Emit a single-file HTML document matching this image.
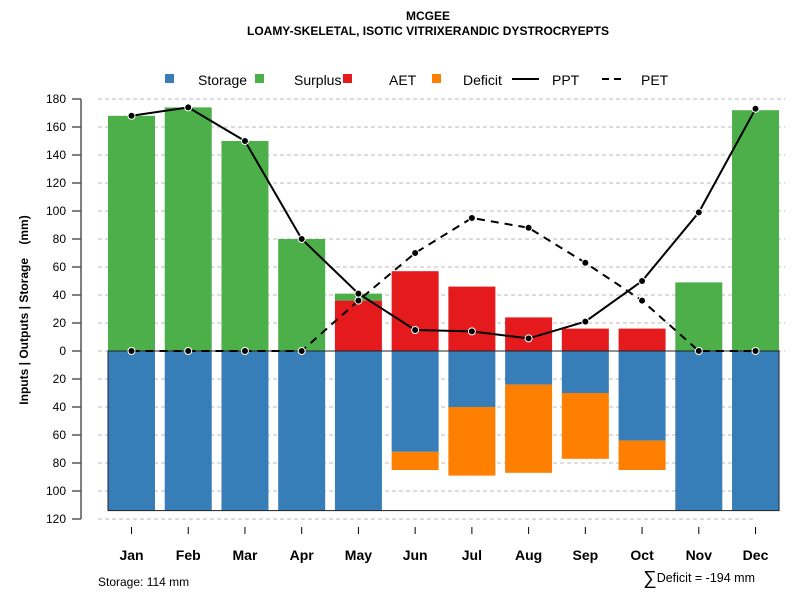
<!DOCTYPE html>
<html><head><meta charset="utf-8"><style>
body{margin:0;background:#fff;font-family:"Liberation Sans",sans-serif}
svg text{font-family:"Liberation Sans",sans-serif}
</style></head><body>
<svg id="chart" width="800" height="600" xmlns="http://www.w3.org/2000/svg">
<text x="428" y="20" text-anchor="middle" font-size="12" font-weight="bold">MCGEE</text>
<text x="428" y="35" text-anchor="middle" font-size="12" font-weight="bold">LOAMY-SKELETAL, ISOTIC VITRIXERANDIC DYSTROCRYEPTS</text>
<g font-size="14">
<rect x="165" y="74" width="9" height="9" fill="#377eb8"/>
<text x="198" y="85">Storage</text>
<rect x="255" y="74" width="9" height="9" fill="#4daf4a"/>
<text x="294" y="85">Surplus</text>
<rect x="343" y="74" width="9" height="9" fill="#e41a1c"/>
<text x="389" y="85">AET</text>
<rect x="432" y="74" width="9" height="9" fill="#ff7f00"/>
<text x="463" y="85">Deficit</text>
<line x1="512" y1="79" x2="539" y2="79" stroke="#000" stroke-width="2"/>
<text x="552" y="85">PPT</text>
<line x1="602" y1="79" x2="625" y2="79" stroke="#000" stroke-width="2" stroke-dasharray="7,5"/>
<text x="641" y="85">PET</text>
</g>
<g id="grid"></g><g id="bars"></g><g id="lines"></g><g id="axes"></g>
<text transform="translate(28,310) rotate(-90)" text-anchor="middle" font-size="12" font-weight="bold" xml:space="preserve">Inputs | Outputs | Storage    (mm)</text>
<text x="98" y="586" font-size="12">Storage: 114 mm</text>
<text x="755" y="582" text-anchor="end" font-size="12.5"><tspan font-size="19" dy="2">∑</tspan><tspan dy="-2">Deficit = -194 mm</tspan></text>
</svg>
<script>
const months=["Jan","Feb","Mar","Apr","May","Jun","Jul","Aug","Sep","Oct","Nov","Dec"];
const ppt=[168,174,150,80,41,15,14,9,21,50,99,173];
const pet=[0,0,0,0,36,70,95,88,63,36,0,0];
const aet=[0,0,0,0,36,57,46,24,16,16,0,0];
const surplus=[168,174,150,80,5,0,0,0,0,0,49,172];
const storage=[114,114,114,114,114,72,40,24,30,64,114,114];
const deficit=[0,0,0,0,0,13,49,63,47,21,0,0];
const yTicks=[180,160,140,120,100,80,60,40,20,0,-20,-40,-60,-80,-100,-120];
const NS="http://www.w3.org/2000/svg";
const y=v=>351-v*1.4;
const x=i=>131.5+i*56.73;
const bw=47;
function mk(p,t,a){const e=document.createElementNS(NS,t);for(const k in a)e.setAttribute(k,a[k]);document.getElementById(p).appendChild(e);return e;}
yTicks.forEach(v=>{
 const g=mk('grid','line',{x1:98,x2:v<0?755:785,y1:y(v),y2:y(v),stroke:'#bbb','stroke-dasharray':'4,3'});
 
 
 const t=mk('axes','line',{x1:72,x2:81,y1:y(v),y2:y(v),stroke:'#000'});
 
 
 const l=mk('axes','text',{x:66,y:y(v)+4,'text-anchor':'end','font-size':12});
 l.textContent=Math.abs(v);
 
 
});
const ax=mk('axes','line',{x1:81,x2:81,y1:y(180),y2:y(-120),stroke:'#555','stroke-width':1.5});


months.forEach((m,i)=>{
 const cx=x(i),l=cx-bw/2;
 const s=mk('bars','rect',{x:l,y:y(0),width:bw,height:storage[i]*1.4,fill:'#377eb8'});
 
 
 if(deficit[i]>0){const d=mk('bars','rect',{x:l,y:y(-storage[i]),width:bw,height:deficit[i]*1.4,fill:'#ff7f00'});
 
 }
 if(aet[i]>0){const a=mk('bars','rect',{x:l,y:y(aet[i]),width:bw,height:aet[i]*1.4,fill:'#e41a1c'});
 
 }
 if(surplus[i]>0){const sp=mk('bars','rect',{x:l,y:y(aet[i]+surplus[i]),width:bw,height:surplus[i]*1.4,fill:'#4daf4a'});
 
 }
 const t=mk('axes','line',{x1:cx,x2:cx,y1:527,y2:534,stroke:'#000'});
 
 
 const tl=mk('axes','text',{x:cx,y:560,'text-anchor':'middle','font-size':14,'font-weight':'bold'});
 tl.textContent=m;
 
 
});
const box=mk('bars','rect',{x:x(0)-bw/2,y:y(0),width:x(11)-x(0)+bw,height:114*1.4,fill:'none',stroke:'#222'});


function line(arr,name,dash){
 const p=mk('lines','polyline',{points:arr.map((v,i)=>x(i)+','+y(v)).join(' '),fill:'none',stroke:'#000','stroke-width':2,'stroke-dasharray':dash});
 
 
}
line(pet,'pet','8,6');line(ppt,'ppt','none');
[pet,ppt].forEach((arr,k)=>arr.forEach((v,i)=>{
 const c=mk('lines','circle',{cx:x(i),cy:y(v),r:3.5,fill:'#000',stroke:'#fff','stroke-width':1});
 
 
}));
</script>
</body></html>
